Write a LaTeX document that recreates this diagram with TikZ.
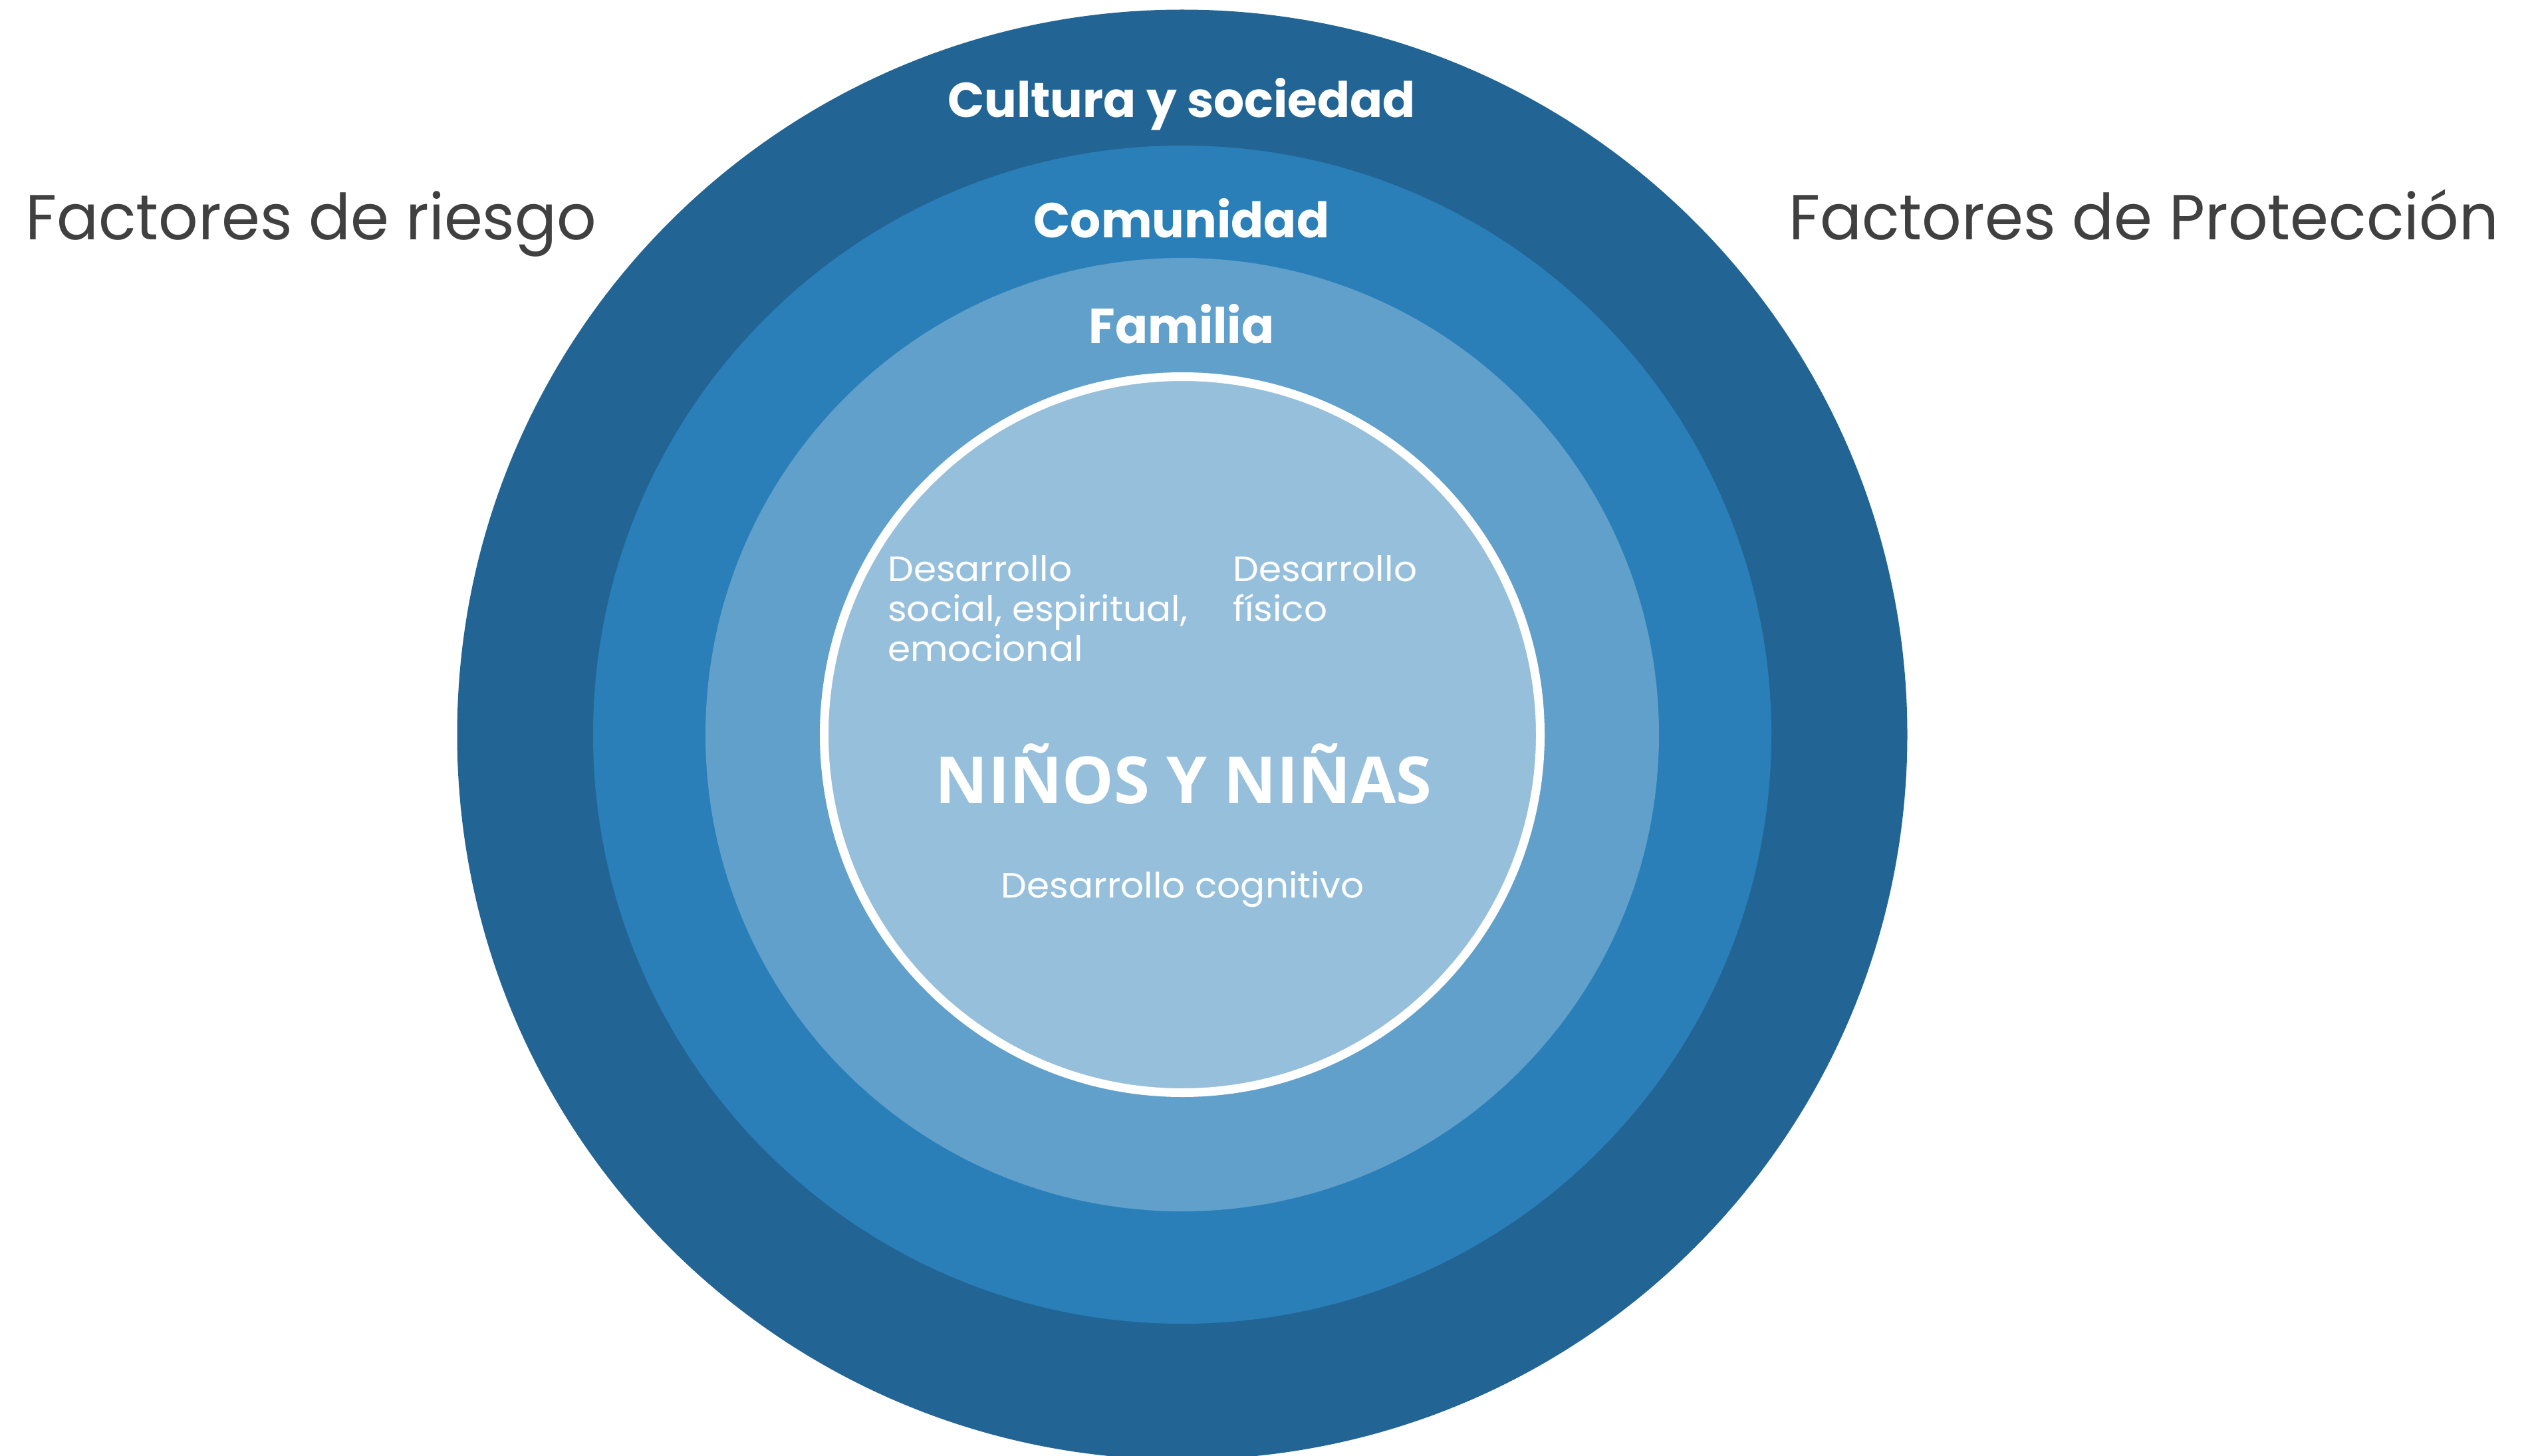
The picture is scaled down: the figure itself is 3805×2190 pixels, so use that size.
\documentclass[tikz,border=0pt]{standalone}
\usepackage{fontspec}
\setmainfont{Poppins}
\newfontfamily\opensans{Open Sans}
\newfontfamily\popside[FakeStretch=0.975]{Poppins}
\newfontfamily\popring[FakeStretch=0.982]{Poppins}
\newfontfamily\popdev[FakeStretch=1.04]{Poppins}
\definecolor{ringA}{RGB}{34,101,148}
\definecolor{ringB}{RGB}{42,127,184}
\definecolor{ringC}{RGB}{96,160,203}
\definecolor{ringD}{RGB}{150,191,219}
\definecolor{sidegray}{RGB}{64,64,64}
\tikzset{
  ringlabel/.style={text=white, font=\fontsize{74}{80}\selectfont\popring\bfseries, anchor=base, inner sep=0pt},
  sidelabel/.style={text=sidegray, font=\fontsize{96}{100}\selectfont\popside, anchor=base west, inner sep=0pt},
  devlabel/.style={text=white, font=\fontsize{53}{60}\selectfont\popdev, anchor=base west, inner sep=0pt},
  titlelabel/.style={text=white, font=\fontsize{98}{104}\selectfont\opensans\bfseries, anchor=base, inner sep=0pt}
}
\begin{document}
\begin{tikzpicture}[x=1bp,y=-1bp]
\useasboundingbox (0,0) rectangle (3805,2190);
\fill[white] (0,0) rectangle (3805,2190);
\clip (0,0) rectangle (3805,2190);
\coordinate (c) at (1778,1105);
\fill[ringA] (c) circle[radius=1090.5];
\fill[ringB] (c) circle[radius=886];
\fill[ringC] (c) circle[radius=717];
\fill[ringD, draw=white, line width=13bp] (c) circle[radius=538.5];
\node[ringlabel] (cultura) at (1777,177) {Cultura y sociedad};
\node[ringlabel] (comunidad) at (1777,358) {Comunidad};
\node[ringlabel] (familia) at (1777,516) {Familia};
\node[sidelabel] (riesgo) at (38,361) {Factores de riesgo};
\node[sidelabel] (proteccion) at (2690,361) {Factores de Protección};
\node[devlabel] (soc1) at (1335,874) {Desarrollo};
\node[devlabel] (soc2) at (1335,934) {social, espiritual,};
\node[devlabel] (soc3) at (1335,994) {emocional};
\node[devlabel] (fis1) at (1854,874) {Desarrollo};
\node[devlabel] (fis2) at (1854,934) {físico};
\node[titlelabel] (ninos) at (1780,1208) {NIÑOS Y NIÑAS};
\node[devlabel, anchor=base] (cog) at (1778.5,1350) {Desarrollo cognitivo};
\end{tikzpicture}
\end{document}
